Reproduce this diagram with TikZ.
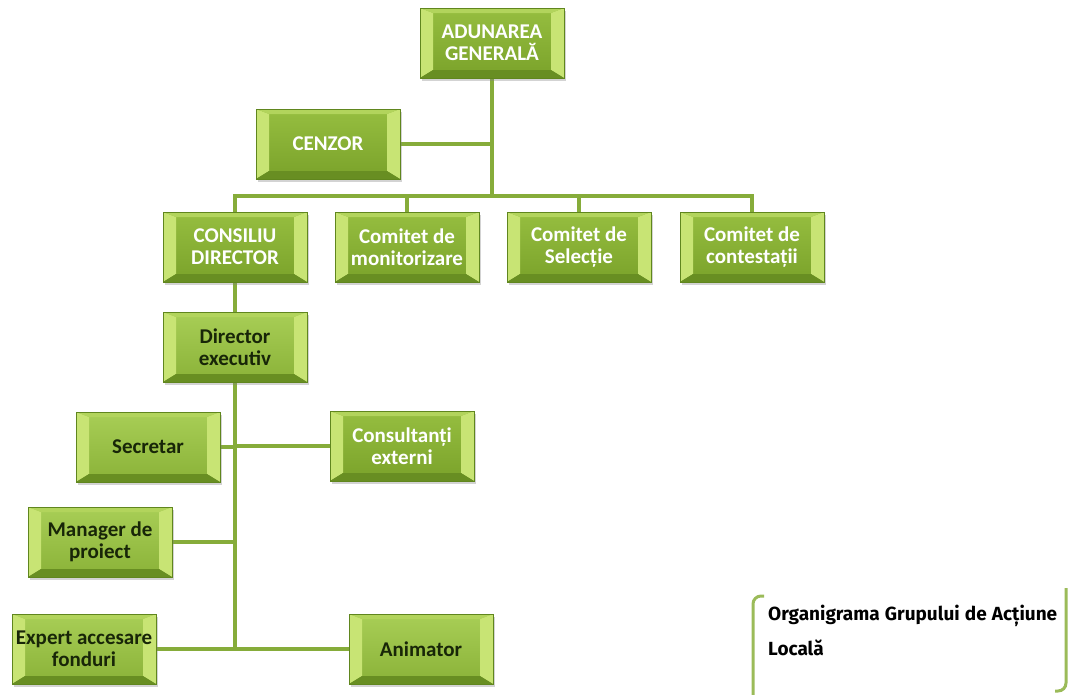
\documentclass[tikz,border=0pt]{standalone}
\usepackage{fontspec}
\setmainfont{Carlito}
\newfontfamily\capfont{Fira Sans}
\usetikzlibrary{shadows,backgrounds}
\definecolor{facetop}{RGB}{150,190,64}
\definecolor{facebot}{RGB}{122,162,42}
\definecolor{litetop}{RGB}{168,206,86}
\definecolor{litebot}{RGB}{138,178,56}
\definecolor{bevside}{RGB}{200,228,116}
\definecolor{bevtop}{RGB}{178,212,92}
\definecolor{bevbot}{RGB}{104,142,34}
\definecolor{boxedge}{RGB}{96,134,30}
\definecolor{linkcol}{RGB}{134,172,58}
\definecolor{brkcol}{RGB}{155,187,89}
\definecolor{darktxt}{RGB}{24,38,8}
\begin{document}
\begin{tikzpicture}
      [x=1pt,y=-1pt
      ,box/.style={minimum width=144pt,minimum height=70pt,inner sep=0pt
                  ,top color=facetop,bottom color=facebot,draw=boxedge,line width=.5pt
                  ,drop shadow={opacity=.35,shadow xshift=2pt,shadow yshift=-3pt}
                  ,text=white,align=center,font=\bfseries\fontsize{21}{22}\selectfont
                  ,path picture={
                     \fill[bevside] (path picture bounding box.north west) -- (path picture bounding box.south west)
                       -- ([xshift=13pt,yshift=8pt]path picture bounding box.south west)
                       -- ([xshift=13pt,yshift=-5pt]path picture bounding box.north west) -- cycle;
                     \fill[bevside] (path picture bounding box.north east) -- (path picture bounding box.south east)
                       -- ([xshift=-13pt,yshift=8pt]path picture bounding box.south east)
                       -- ([xshift=-13pt,yshift=-5pt]path picture bounding box.north east) -- cycle;
                     \fill[bevtop] (path picture bounding box.north west) -- (path picture bounding box.north east)
                       -- ([xshift=-13pt,yshift=-5pt]path picture bounding box.north east)
                       -- ([xshift=13pt,yshift=-5pt]path picture bounding box.north west) -- cycle;
                     \fill[bevbot] (path picture bounding box.south west) -- (path picture bounding box.south east)
                       -- ([xshift=-13pt,yshift=8pt]path picture bounding box.south east)
                       -- ([xshift=13pt,yshift=8pt]path picture bounding box.south west) -- cycle;
                   }}
      ,lite/.style={box,top color=litetop,bottom color=litebot,text=darktxt}
      ,lin/.style={color=linkcol,line width=4pt}
      ,brk/.style={color=brkcol,line width=3pt,rounded corners=8pt}
      ]
        \useasboundingbox (0,0) rectangle (1073,694);

        \coordinate (bus) at (492,196);
        \coordinate (foot) at (235,648);

        \node[box] (adu) at (492,43) {ADUNAREA\\GENERALĂ};
        \node[box] (cenzor) at (328,144) {CENZOR};
        \node[box] (cons) at (235,247) {CONSILIU\\DIRECTOR};
        \node[box] (monit) at (407,247) {Comitet de\\monitorizare};
        \node[box] (sel) at (579,247) {Comitet de\\Selecție};
        \node[box] (contest) at (752,247) {Comitet de\\contestații};
        \node[lite] (dir) at (235,347) {Director\\executiv};
        \node[lite] (secr) at (148,447) {Secretar};
        \node[box] (consext) at (402,446) {Consultanți\\externi};
        \node[lite] (manag) at (100,542) {Manager de\\proiect};
        \node[lite] (expert) at (84,649) {Expert accesare\\fonduri};
        \node[lite] (anim) at (421,649) {Animator};

        % links go behind the boxes
        \begin{scope}[on background layer]
        \draw[lin] (adu.south) -- (bus);
        \draw[lin] (cenzor.east) -- (cenzor.east -| bus);
        \draw[lin] (cons.north) |- (bus) -| (contest.north);
        \foreach \k in {monit,sel}
          \draw[lin] (\k.north) -- (\k.north |- bus);
        \draw[lin] (cons.south) -- (dir.north);
        \draw[lin] (dir.south) -- (foot);
        \foreach \k in {secr,manag,expert}
          \draw[lin] (\k.east) -- (\k.east -| foot);
        \foreach \k in {consext,anim}
          \draw[lin] (\k.west) -- (\k.west -| foot);
        \end{scope}

        \node[anchor=north west,inner sep=0pt,text width=289pt,align=justify
             ,font=\capfont\bfseries\fontsize{19}{35}\selectfont] (cap) at (768,605)
             {Organigrama Grupului de Acțiune\linebreak Locală};
        \draw[brk] (764,596) -- (753,596) -- (753,700);
        \draw[brk] (1066,588) -- (1066,691) -- (1055,691);
      \end{tikzpicture}
\end{document}
